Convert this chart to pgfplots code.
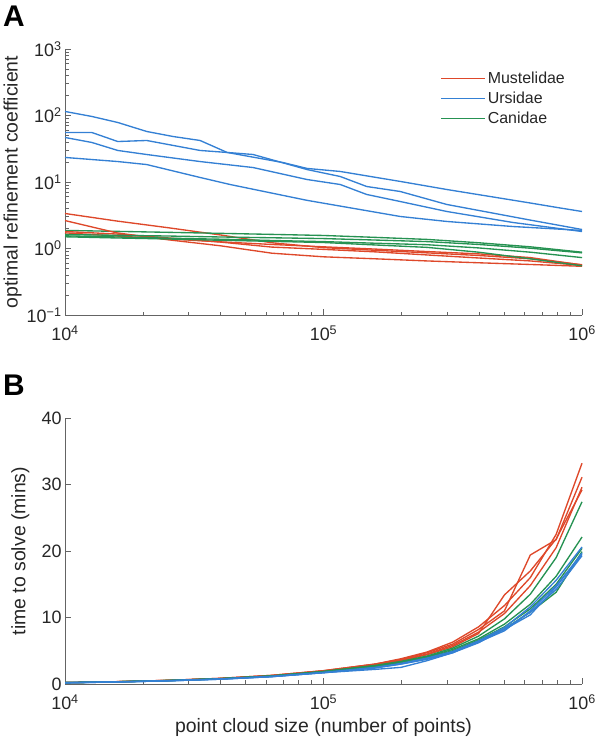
\documentclass[border=0pt]{standalone}
\usepackage{pgfplots}
\usepackage{pgfplotstable}
\pgfplotsset{compat=1.18}
\usepackage{fontspec}
\setmainfont{Liberation Sans}
\definecolor{mred}{RGB}{222,72,42}
\definecolor{mblue}{RGB}{52,128,212}
\definecolor{mgreen}{RGB}{38,146,82}
\definecolor{axgray}{RGB}{100,100,100}
\definecolor{txt}{RGB}{38,38,38}

\pgfplotstableread{
x       r1    r2    r3    r4     g1   g2   g3   g4
10000   3.36  2.63  1.80  1.72   1.87 1.62 1.55 1.50
15850   2.59  1.72  1.65  1.54   1.81 1.58 1.49 1.44
25120   2.05  1.35  1.44  1.39   1.75 1.54 1.43 1.39
39810   1.60  1.10  1.25  1.26   1.69 1.49 1.38 1.33
63100   1.22  0.85  1.05  1.15   1.63 1.45 1.32 1.28
100000  1.03  0.75  0.97  1.06   1.57 1.41 1.27 1.23
158500  0.94  0.70  0.89  0.98   1.47 1.34 1.20 1.13
251200  0.86  0.65  0.80  0.90   1.37 1.27 1.14 1.04
398100  0.785 0.61  0.72  0.83   1.22 1.15 1.02 0.88
631000  0.70  0.575 0.65  0.73   1.06 1.01 0.88 0.70
1000000 0.57  0.54  0.555 0.565  0.88 0.86 0.73 0.55
}\tabA

\pgfplotstableread{
x       r1   r2   r3   r4    g1   g2   g3   g4    b1   b2   b3   b4
10000   0.20 0.20 0.20 0.20  0.20 0.20 0.20 0.20  0.20 0.18 0.18 0.20
15850   0.35 0.35 0.34 0.34  0.34 0.33 0.33 0.33  0.32 0.30 0.30 0.31
25120   0.55 0.55 0.54 0.53  0.53 0.52 0.52 0.51  0.50 0.48 0.48 0.49
39810   0.85 0.85 0.82 0.80  0.80 0.80 0.78 0.78  0.76 0.72 0.72 0.74
63100   1.30 1.30 1.25 1.25  1.22 1.20 1.20 1.18  1.15 1.10 1.10 1.12
100000  2.00 2.00 1.95 1.90  1.90 1.85 1.85 1.80  1.75 1.70 1.70 1.70
158500  3.00 3.00 2.90 2.90  2.80 2.70 2.70 2.60  2.50 2.20 2.40 2.45
199500  3.80 3.70 3.60 3.50  3.40 3.30 3.20 3.20  3.10 2.50 3.00 3.00
251200  4.80 4.70 4.50 4.40  4.20 4.10 4.00 3.90  3.90 3.50 3.80 3.70
316200  6.30 6.00 5.80 5.60  5.40 5.20 5.00 4.90  4.90 4.70 4.80 4.70
398100  8.60 8.20 7.80 7.60  7.20 6.80 6.60 6.50  6.50 6.40 6.30 6.20
501200  11.8 11.0 10.6 13.4  9.80 9.00 8.60 8.30  8.50 8.20 8.00 8.30
631000  16.0 19.4 14.8 17.0  13.5 12.0 11.3 10.8  11.6 10.4 11.0 10.8
794300  22.5 21.7 20.5 21.8  19.0 16.2 15.0 13.8  15.6 14.6 14.8 14.2
1000000 33.2 31.1 29.6 29.2  27.4 22.1 20.4 19.9  20.6 19.7 19.5 19.3
}\tabB

\pgfplotsset{
  mystyle/.style={
    scale only axis, width=517bp, height=266bp,
    axis lines=left, axis line style={-, axgray, line width=0.7pt},
    tick style={axgray, line width=0.6pt},
    tick align=inside,
    major tick length=6bp, minor tick length=3.5bp,
    ticklabel style={font=\fontsize{18}{18}\selectfont, text=txt},
    label style={font=\fontsize{19.5}{19.5}\selectfont, text=txt},
    xmin=1e4, xmax=1e6,
    xtick={1e4,1e5,1e6},
    xticklabels={10\textsuperscript{4},10\textsuperscript{5},10\textsuperscript{6}},
    xticklabel style={yshift=-7bp},
    clip=false,
    every axis plot/.append style={line width=1.35pt},
  }
}

\begin{document}
\begin{tikzpicture}[x=1bp,y=1bp]
\useasboundingbox (0,0) rectangle (597bp,746bp);
\node[font=\fontsize{30}{30}\selectfont\bfseries, text=black] at (14bp,730bp) {A};
\node[font=\fontsize{30}{30}\selectfont\bfseries, text=black] at (14bp,361bp) {B};

\begin{axis}[xmode=log, ymode=log, mystyle, at={(65bp,431bp)}, anchor=south west,
  ymin=0.1, ymax=1000,
  ytick={0.1,1,10,100,1000},
  yticklabels={10\textsuperscript{−1},10\textsuperscript{0},10\textsuperscript{1},10\textsuperscript{2},10\textsuperscript{3}},
  ylabel={optimal refinement coefficient},
  ylabel style={at={(axis description cs:-0.077,0.5)}, anchor=south},
  legend style={at={(axis description cs:0.72,0.93)}, anchor=north west, draw=none, fill=none,
     font=\fontsize{16}{16}\selectfont, row sep=3bp},
  legend cell align=left,
  legend image code/.code={\draw[#1, line width=1.35pt] (0bp,0bp) -- (44bp,0bp);},
]
\addplot[mred] table[x=x,y=r1] {\tabA};
\addlegendentry{\textcolor{txt}{Mustelidae}}
\addplot[mblue] coordinates {(10000,115) (12700,96.7) (16000,78.5) (20700,57.5) (26200,48.3) (33300,42.1) (42400,27.8) (53400,25.9) (86300,15.4) (116000,12.1) (147000,8.55) (198000,7.2) (300000,4.59) (613000,2.73) (1000000,1.93)};
\addlegendentry{\textcolor{txt}{Ursidae}}
\addplot[mgreen] table[x=x,y=g1] {\tabA};
\addlegendentry{\textcolor{txt}{Canidae}}
\addplot[mred, forget plot] table[x=x,y=r2] {\tabA};
\addplot[mred, forget plot] table[x=x,y=r3] {\tabA};
\addplot[mred, forget plot] table[x=x,y=r4] {\tabA};
\addplot[mblue, forget plot] coordinates {(10000,55.5) (12700,55.5) (16000,40.6) (20700,42.1) (33300,29.8) (42400,27.8) (69700,19.6) (86300,16.0) (116000,14.4) (198000,10.2) (300000,7.71) (613000,4.92) (800000,4.14) (1000000,3.6)};
\addplot[mblue, forget plot] coordinates {(10000,46.7) (12700,39.3) (16000,29.8) (20700,25.9) (33300,20.3) (53400,16.5) (86300,10.9) (116000,9.17) (147000,6.49) (198000,5.09) (300000,3.6) (541000,2.46) (1000000,1.80)};
\addplot[mblue, forget plot] coordinates {(10000,23.4) (16000,20.3) (20700,18.3) (33300,11.7) (43500,9.17) (86300,5.3) (198000,3.03) (300000,2.55) (541000,2.14) (1000000,1.87)};
\addplot[mgreen, forget plot] table[x=x,y=g2] {\tabA};
\addplot[mgreen, forget plot] table[x=x,y=g3] {\tabA};
\addplot[mgreen, forget plot] table[x=x,y=g4] {\tabA};
\end{axis}

\begin{axis}[xmode=log, mystyle, at={(65bp,62bp)}, anchor=south west,
  ymin=0, ymax=40, ytick={0,10,20,30,40},
  yticklabels={0,10,20,30,40},
  ylabel={time to solve (mins)},
  ylabel style={at={(axis description cs:-0.062,0.5)}, anchor=south},
  xlabel={point cloud size (number of points)},
  xlabel style={yshift=-2bp},
]
\addplot[mred] table[x=x,y=r1] {\tabB};
\addplot[mred] table[x=x,y=r2] {\tabB};
\addplot[mred] table[x=x,y=r3] {\tabB};
\addplot[mred] table[x=x,y=r4] {\tabB};
\addplot[mgreen] table[x=x,y=g1] {\tabB};
\addplot[mgreen] table[x=x,y=g2] {\tabB};
\addplot[mgreen] table[x=x,y=g3] {\tabB};
\addplot[mgreen] table[x=x,y=g4] {\tabB};
\addplot[mblue] table[x=x,y=b1] {\tabB};
\addplot[mblue] table[x=x,y=b2] {\tabB};
\addplot[mblue] table[x=x,y=b3] {\tabB};
\addplot[mblue] table[x=x,y=b4] {\tabB};
\end{axis}
\end{tikzpicture}
\end{document}
